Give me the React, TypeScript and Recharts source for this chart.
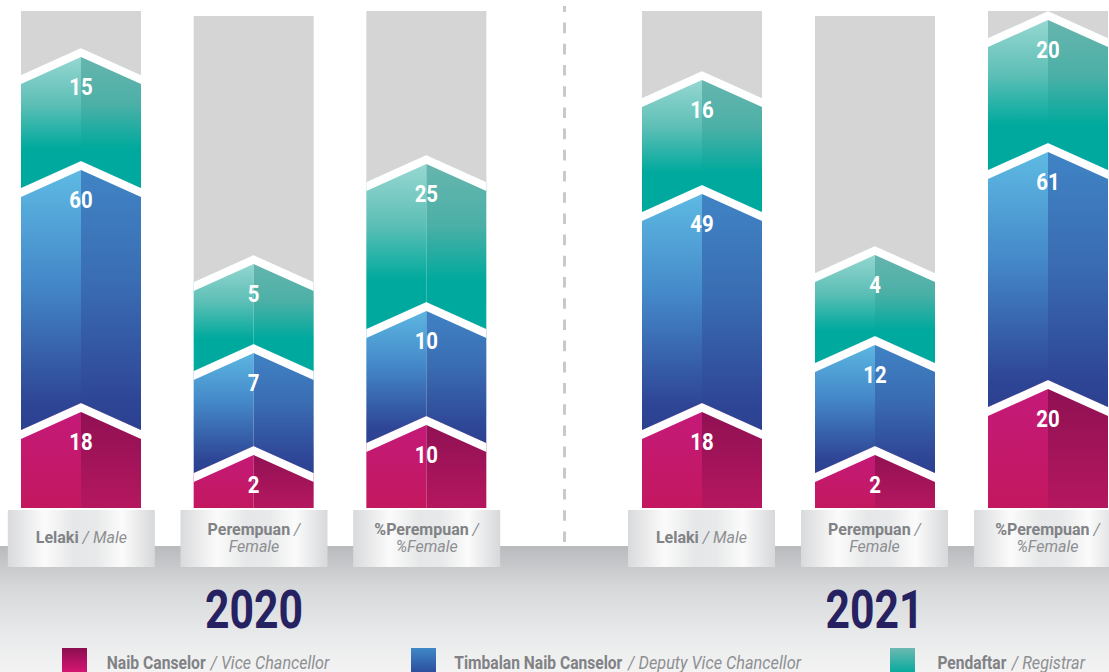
import React from 'react';
import { BarChart, Bar, XAxis, YAxis, LabelList } from 'recharts';

const categories = ['Lelaki', 'Perempuan', '%Perempuan'];
const categoriesEn = ['Male', 'Female', '%Female'];

// numbers printed on the segments
const vc2020 = [18, 2, 10];
const dvc2020 = [60, 7, 10];
const reg2020 = [15, 5, 25];
const vc2021 = [18, 2, 20];
const dvc2021 = [49, 12, 61];
const reg2021 = [16, 4, 20];

// drawn segment lengths (the infographic is not to scale)
const vcLen2020 = [78, 35, 65];
const dvcLen2020 = [242, 102, 114];
const regLen2020 = [113, 89, 147];
const vcLen2021 = [78, 35, 101];
const dvcLen2021 = [218, 110, 237];
const regLen2021 = [114, 90, 132];
const columnLen = [497, 492, 497];

const legendNames = ['Naib Canselor', 'Timbalan Naib Canselor', 'Pendaftar'];
const legendEn = ['Vice Chancellor', 'Deputy Vice Chancellor', 'Registrar'];

const FONT = 'Roboto, sans-serif';
const TIP = 27; // chevron rise
const BAND = 9; // white stripe

const buildRows = (vc: number[], dvc: number[], reg: number[], vcL: number[], dvcL: number[], regL: number[]) =>
  categories.map((name, i) => ({
    name,
    vc: vcL[i],
    dvc: dvcL[i],
    reg: regL[i],
    rest: columnLen[i] - vcL[i] - dvcL[i] - regL[i],
    vcLabel: vc[i],
    dvcLabel: dvc[i],
    regLabel: reg[i],
  }));

const rows2020 = buildRows(vc2020, dvc2020, reg2020, vcLen2020, dvcLen2020, regLen2020);
const rows2021 = buildRows(vc2021, dvc2021, reg2021, vcLen2021, dvcLen2021, regLen2021);

const norm = (p: any) => {
  let { x, y, width, height } = p;
  x = Number(x); y = Number(y); width = Number(width); height = Number(height);
  if (height < 0) { y += height; height = -height; }
  return { x, y, width, height };
};

const makeSegment = (left: string, right: string, isBottom: boolean) => (p: any) => {
  const { x, y, width, height } = norm(p);
  if (!height) return <g />;
  const cx = x + width / 2;
  const r = x + width;
  const bot = y + height;
  const bTip = isBottom ? bot : bot - TIP;
  return (
    <g>
      <polygon points={`${x},${y} ${cx},${y - TIP} ${cx},${bTip} ${x},${bot}`} fill={`url(#${left})`} />
      <polygon points={`${cx},${y - TIP} ${r},${y} ${r},${bot} ${cx},${bTip}`} fill={`url(#${right})`} />
      <polygon
        points={`${x},${y} ${cx},${y - TIP} ${r},${y} ${r},${y + BAND} ${cx},${y - TIP + BAND} ${x},${y + BAND}`}
        fill="#ffffff"
      />
    </g>
  );
};

const RestShape = (p: any) => {
  const { x, y, width, height } = norm(p);
  const cx = x + width / 2;
  const bot = y + height;
  return <polygon points={`${x},${y} ${x + width},${y} ${x + width},${bot} ${cx},${bot - TIP} ${x},${bot}`} fill="#d5d5d5" />;
};

const SegLabel = (p: any) => {
  const { x, y, width } = norm(p);
  return (
    <text
      transform={`translate(${x + width / 2},${y + 20}) scale(0.85,1)`}
      textAnchor="middle"
      fill="#ffffff"
      fontSize={24}
      fontWeight={700}
      fontFamily={FONT}
    >
      {p.value}
    </text>
  );
};

const CategoryTick = (p: any) => {
  const { x, y, payload } = p;
  const i = categories.indexOf(payload.value);
  const top = y + 2;
  const boldFill = '#808285';
  const itFill = '#8d8f92';
  return (
    <g>
      <rect x={x - 73.5} y={top} width={147} height={57} fill="url(#boxGrad)" />
      {i === 0 ? (
        <text x={x} y={top + 33} textAnchor="middle" fontSize={16} fontFamily={FONT}>
          <tspan fontWeight={700} fill={boldFill}>{categories[i]}</tspan>
          <tspan fill={itFill} fontStyle="italic"> / {categoriesEn[i]}</tspan>
        </text>
      ) : (
        <text textAnchor="middle" fontSize={16} fontFamily={FONT}>
          <tspan x={x} y={top + 25} fontWeight={700} fill={boldFill}>{categories[i]}</tspan>
          <tspan fill={itFill} fontStyle="italic"> /</tspan>
          <tspan x={x} y={top + 42} fill={itFill} fontStyle="italic">{categoriesEn[i]}</tspan>
        </text>
      )}
    </g>
  );
};

const YearLabel = (year: string) => (p: any) => {
  const vb = p.viewBox || { x: 0, y: 508, width: 0 };
  return (
    <text
      x={vb.x + vb.width / 2}
      y={vb.y + 120}
      textAnchor="middle"
      fontSize={53}
      fontWeight={700}
      fill="#262262"
      fontFamily={FONT}
      textLength={98}
      lengthAdjust="spacingAndGlyphs"
    >
      {year}
    </text>
  );
};

const Defs = () => (
  <defs>
    <linearGradient id="pinkL" x1="0" y1="0" x2="0" y2="1">
      <stop offset="0%" stopColor="#c41a7b" />
      <stop offset="100%" stopColor="#c3185f" />
    </linearGradient>
    <linearGradient id="pinkR" x1="0" y1="0" x2="0" y2="1">
      <stop offset="0%" stopColor="#8c1052" />
      <stop offset="100%" stopColor="#b5175f" />
    </linearGradient>
    <linearGradient id="blueL" x1="0" y1="0" x2="0" y2="1">
      <stop offset="0%" stopColor="#60bee5" />
      <stop offset="45%" stopColor="#4488c9" />
      <stop offset="90%" stopColor="#2e4595" />
      <stop offset="100%" stopColor="#2c4090" />
    </linearGradient>
    <linearGradient id="blueR" x1="0" y1="0" x2="0" y2="1">
      <stop offset="0%" stopColor="#4086c6" />
      <stop offset="45%" stopColor="#3a6db3" />
      <stop offset="90%" stopColor="#2e4595" />
      <stop offset="100%" stopColor="#2c4090" />
    </linearGradient>
    <linearGradient id="tealL" x1="0" y1="0" x2="0" y2="1">
      <stop offset="0%" stopColor="#a0dbd6" />
      <stop offset="40%" stopColor="#5dbfb6" />
      <stop offset="72%" stopColor="#00a99d" />
      <stop offset="100%" stopColor="#00a99d" />
    </linearGradient>
    <linearGradient id="tealR" x1="0" y1="0" x2="0" y2="1">
      <stop offset="0%" stopColor="#6ab6af" />
      <stop offset="40%" stopColor="#4cb0a7" />
      <stop offset="72%" stopColor="#00a99d" />
      <stop offset="100%" stopColor="#00a99d" />
    </linearGradient>
    <linearGradient id="boxGrad" x1="0" y1="0" x2="1" y2="0">
      <stop offset="0%" stopColor="#d9dadc" />
      <stop offset="25%" stopColor="#fbfbfb" />
      <stop offset="45%" stopColor="#e6e7e8" />
      <stop offset="60%" stopColor="#e8e9ea" />
      <stop offset="78%" stopColor="#fbfbfb" />
      <stop offset="100%" stopColor="#d7d8da" />
    </linearGradient>
  </defs>
);

const YearChart = ({ year, rows, left, width }: { year: string; rows: any[]; left: number; width: number }) => (
  <div style={{ position: 'absolute', left, top: 0 }}>
    <BarChart width={width} height={672} data={rows} margin={{ top: 11, right: 0, bottom: 0, left: 0 }}>
      <Defs />
      <XAxis
        dataKey="name"
        axisLine={false}
        tickLine={false}
        tickSize={0}
        tickMargin={0}
        height={164}
        interval={0}
        tick={<CategoryTick />}
        label={YearLabel(year)}
      />
      <YAxis hide domain={[0, 497]} />
      <Bar dataKey="vc" stackId="a" barSize={120} shape={makeSegment('pinkL', 'pinkR', true)} isAnimationActive={false}>
        <LabelList dataKey="vcLabel" content={SegLabel} />
      </Bar>
      <Bar dataKey="dvc" stackId="a" barSize={120} shape={makeSegment('blueL', 'blueR', false)} isAnimationActive={false}>
        <LabelList dataKey="dvcLabel" content={SegLabel} />
      </Bar>
      <Bar dataKey="reg" stackId="a" barSize={120} shape={makeSegment('tealL', 'tealR', false)} isAnimationActive={false}>
        <LabelList dataKey="regLabel" content={SegLabel} />
      </Bar>
      <Bar dataKey="rest" stackId="a" barSize={120} shape={RestShape} isAnimationActive={false} />
    </BarChart>
  </div>
);

// legend layout: swatch x, bold text span, italic text span
const legendX = [62, 411, 890];
const legendBold = [[106.7, 99], [454.3, 168], [937.4, 69]];
const legendItalic = [[210.5, 118.8], [628, 173], [1011.7, 73.3]];
const legendGrad = ['legPink', 'legBlue', 'legTeal'];

const Overlay = () => (
  <svg width={1109} height={672} style={{ position: 'absolute', left: 0, top: 0 }}>
    <defs>
      <linearGradient id="legPink" x1="0" y1="0" x2="0" y2="1">
        <stop offset="0%" stopColor="#8b0e50" />
        <stop offset="100%" stopColor="#dc1774" />
      </linearGradient>
      <linearGradient id="legBlue" x1="0" y1="0" x2="0" y2="1">
        <stop offset="0%" stopColor="#3f88c8" />
        <stop offset="100%" stopColor="#2b4a9b" />
      </linearGradient>
      <linearGradient id="legTeal" x1="0" y1="0" x2="0" y2="1">
        <stop offset="0%" stopColor="#6db9b1" />
        <stop offset="100%" stopColor="#00a99d" />
      </linearGradient>
    </defs>
    <line x1={564.5} y1={6} x2={564.5} y2={545} stroke="#c9c9c9" strokeWidth={3} strokeDasharray="10.6 10.6" strokeDashoffset={4.6} />
    {legendNames.map((n, i) => (
      <g key={n}>
        <rect x={legendX[i]} y={648} width={25} height={26} fill={`url(#${legendGrad[i]})`} />
        <text
          x={legendBold[i][0]}
          y={669.3}
          fontSize={17.5}
          fontWeight={700}
          fill="#808285"
          fontFamily={FONT}
          textLength={legendBold[i][1]}
          lengthAdjust="spacingAndGlyphs"
        >
          {n}
        </text>
        <text
          x={legendItalic[i][0]}
          y={669.3}
          fontSize={17.5}
          fontStyle="italic"
          fill="#8d8f92"
          fontFamily={FONT}
          textLength={legendItalic[i][1]}
          lengthAdjust="spacingAndGlyphs"
        >
          {`/ ${legendEn[i]}`}
        </text>
      </g>
    ))}
  </svg>
);

export default function App() {
  return (
    <div style={{ position: 'absolute', left: 0, top: 0, width: 1109, height: 672, overflow: 'hidden', background: '#ffffff', fontFamily: FONT }}>
      <div
        style={{
          position: 'absolute',
          left: 0,
          top: 546,
          width: 1109,
          height: 126,
          background: 'linear-gradient(to bottom, #b9babd 0px, #d6d7d9 40px, #e9eaeb 90px, #f3f3f3 126px)',
        }}
      />
      <YearChart year="2020" rows={rows2020} left={-5} width={518} />
      <YearChart year="2021" rows={rows2021} left={615} width={519} />
      <Overlay />
    </div>
  );
}
